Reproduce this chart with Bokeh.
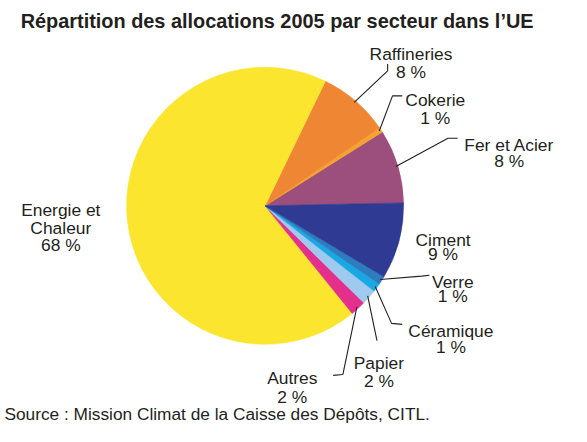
import numpy as np
from bokeh.plotting import figure
from bokeh.models import ColumnDataSource, Range1d
from bokeh.core.properties import value
from bokeh.embed import file_html
from bokeh.resources import INLINE

# ---------------- data ----------------
title = "Répartition des allocations 2005 par secteur dans l’UE"
source_note = "Source : Mission Climat de la Caisse des Dépôts, CITL."

sectors = ["Fer et Acier", "Cokerie", "Raffineries", "Energie et Chaleur",
           "Autres", "Papier", "Céramique", "Verre", "Ciment"]
shares = [8.6, 0.6, 8.3, 68.0, 1.8, 1.8, 1.0, 1.0, 8.9]
pct_labels = ["8 %", "1 %", "8 %", "68 %", "2 %", "2 %", "1 %", "1 %", "9 %"]
name_lines = [["Fer et Acier"], ["Cokerie"], ["Raffineries"], ["Energie et", "Chaleur"],
              ["Autres"], ["Papier"], ["Céramique"], ["Verre"], ["Ciment"]]
colors = ["#9c4e7c", "#f5a22e", "#ef8633", "#fbe52f",
          "#e52f8c", "#9fc9ee", "#1aa8e2", "#2e7cc0", "#2f3a92"]

# ---------------- layout (design pixels of a 587x442 sheet, y downward) ----------------
W, H = 571, 426
SX, SY = W / 587, H / 442
S = (SX + SY) / 2
def fx(x):
    return x * SX
def fy(y):
    return H - y * SY

CX, CY, R = fx(272), fy(213), 143 * S
START = np.deg2rad(1.2)
TEXT = "#231f20"
FONT = value("Liberation Sans")

label_layout = {
    "Raffineries": dict(x=422, base=[56, 74], leader=[(398, 73), (398, 66)]),
    "Cokerie": dict(x=447, base=[103, 122], leader=[(403, 99), (413, 99)]),
    "Fer et Acier": dict(x=523, base=[150, 167], leader=[(460, 143), (470, 143)]),
    "Energie et Chaleur": dict(x=62, base=[217, 236, 254], leader=None),
    "Ciment": dict(x=455, base=[248, 263], leader=None),
    "Verre": dict(x=465, base=[292, 307], leader=[(433, 286), (441, 285)]),
    "Céramique": dict(x=463, base=[343, 360], leader=[(402, 335), (413, 336)]),
    "Papier": dict(x=389, base=[376, 395], leader=[(387, 353)]),
    "Autres": dict(x=300, base=[392, 411], leader=[(352, 388), (342, 389)]),
}

# ---------------- figure ----------------
p = figure(width=W, height=H, output_backend="svg", toolbar_location=None,
           x_range=Range1d(0, W), y_range=Range1d(0, H),
           x_axis_type=None, y_axis_type=None, min_border=0,
           outline_line_color=None, background_fill_color="white",
           border_fill_color="white")
p.grid.visible = False

frac = np.array(shares) / np.sum(shares)
ends = START + 2 * np.pi * np.cumsum(frac)
starts = np.concatenate([[START], ends[:-1]])
mids = (starts + ends) / 2

src = ColumnDataSource(dict(sector=sectors, start=starts, end=ends, color=colors))
p.wedge(x=CX, y=CY, radius=R, start_angle="start", end_angle="end",
        fill_color="color", line_color="color", line_width=0.6, source=src)

# leader lines
lx, ly = [], []
for s, m in zip(sectors, mids):
    lay = label_layout[s]
    if not lay["leader"]:
        continue
    xs = [CX + 141 * S * np.cos(m)]
    ys = [CY + 141 * S * np.sin(m)]
    for (px, py) in lay["leader"]:
        xs.append(fx(px))
        ys.append(fy(py))
    lx.append(xs)
    ly.append(ys)
p.multi_line(xs=lx, ys=ly, line_color=TEXT, line_width=1.1)

# labels
tx, ty, tt = [], [], []
for s, lines, pct in zip(sectors, name_lines, pct_labels):
    lay = label_layout[s]
    for txt, b in zip(lines + [pct], lay["base"]):
        tx.append(fx(lay["x"]))
        ty.append(fy(b))
        tt.append(txt)
p.text(x=tx, y=ty, text=tt, text_align="center", text_baseline="alphabetic",
       text_font=FONT, text_font_size="17.4px", text_color=TEXT)

# title and source
p.text(x=[fx(20.7)], y=[fy(21)], text=[title], text_align="left", text_baseline="alphabetic",
       text_font=FONT, text_font_size="19.9px", text_font_style="bold", text_color=TEXT)
p.text(x=[fx(4)], y=[H - 413], text=[source_note], text_align="left", text_baseline="alphabetic",
       text_font=FONT, text_font_size="17.3px", text_color=TEXT)

open("out.html", "w").write(file_html(p, INLINE))
